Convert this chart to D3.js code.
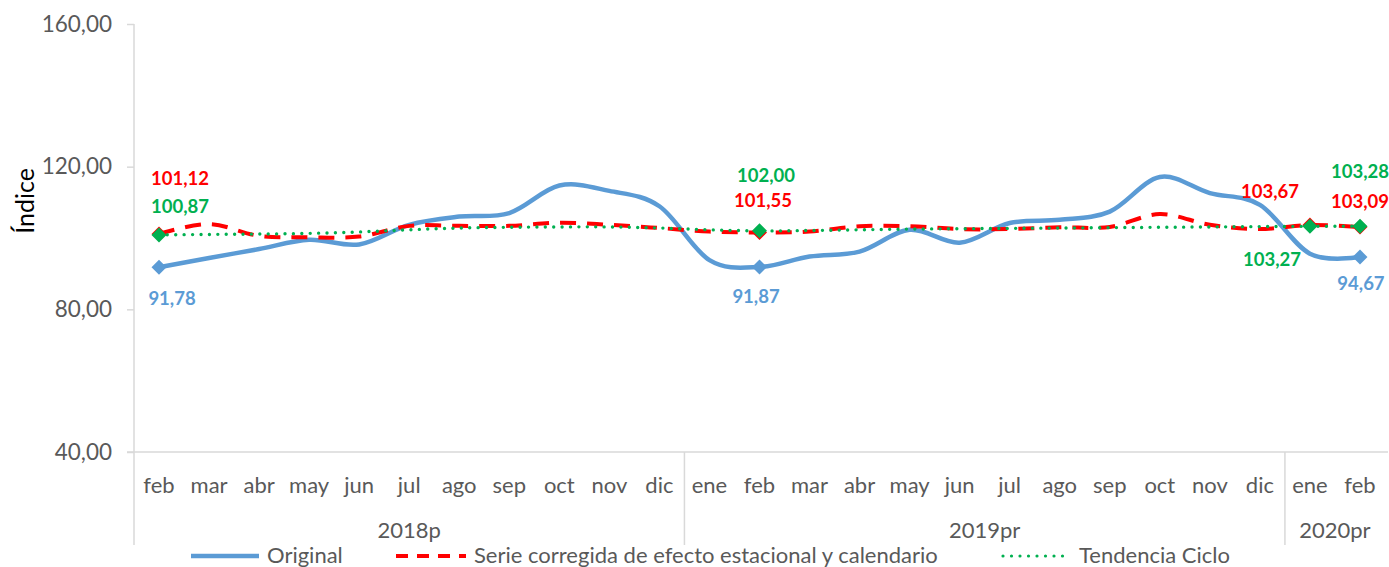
<!DOCTYPE html>
<html><head><meta charset="utf-8">
<script src="https://cdn.jsdelivr.net/npm/d3@7"></script>
<style>
body{margin:0;background:#fff;}
svg{display:block;font-family:Lato,"Open Sans",sans-serif;}
</style>
</head><body>
<svg id="chart" width="1389" height="567"></svg>
<script>
// ---- data ----
const months = ["feb","mar","abr","may","jun","jul","ago","sep","oct","nov","dic",
                "ene","feb","mar","abr","may","jun","jul","ago","sep","oct","nov","dic",
                "ene","feb"];
const yearLabels = ["2018p","2019pr","2020pr"];
const yearSpans = [11, 12, 2];
const original = [91.78, 94.4, 96.9, 99.5, 98.2, 103.7, 106.0, 107.0, 114.7, 113.2, 108.9,
                  93.8, 91.87, 94.8, 96.2, 102.3, 98.7, 104.2, 105.1, 107.4, 117.1, 112.6, 109.3,
                  95.6, 94.67];
const seasonAdj = [101.12, 103.9, 100.6, 100.2, 100.4, 103.4, 103.4, 103.4, 104.3, 103.7, 102.8,
                   101.8, 101.55, 101.8, 103.3, 103.3, 102.5, 102.5, 103.0, 103.1, 106.7, 103.7, 102.5,
                   103.67, 103.09];
const trend = [100.87, 101.0, 101.1, 101.3, 101.7, 102.3, 102.8, 103.0, 103.1, 103.1, 102.8,
               102.3, 102.00, 102.1, 102.3, 102.5, 102.6, 102.7, 102.8, 102.9, 103.0, 103.1, 103.2,
               103.27, 103.28];
const yTicks = [40, 80, 120, 160];
const seriesNames = ["Original", "Serie corregida de efecto estacional y calendario", "Tendencia Ciclo"];
const originalMarked = [0, 12, 24];
const seasonAdjMarked = [0, 12, 23, 24];
const trendMarked = [0, 12, 23, 24];

(function draw() {
// ---- styles / layout ----
const C = {blue:"#5B9BD5", red:"#FF0000", green:"#00B050", text:"#595959", axis:"#D9D9D9"};
const svg = d3.select("#chart");
const pL = 134, pR = 1385, pT = 24, pB = 452;
const loc = d3.formatLocale({decimal:",", thousands:".", grouping:[3], currency:["",""]});
const fmt = loc.format(".2f");

const x = d3.scaleBand().domain(d3.range(months.length)).range([pL, pR]).paddingInner(0).paddingOuter(0);
const xc = i => x(i) + x.bandwidth() / 2;
const y = d3.scaleLinear().domain([40, 160]).range([pB, pT]);

// y axis
const yAxis = svg.append("g").attr("transform", `translate(${pL},0)`)
  .call(d3.axisLeft(y).tickValues(yTicks).tickSize(7).tickPadding(15).tickFormat(fmt));
yAxis.select(".domain").remove();
yAxis.selectAll(".tick line").attr("stroke", C.axis).attr("stroke-width", 1.5);
yAxis.selectAll(".tick text").attr("fill", C.text).attr("font-size", 22.5).attr("font-family", "Lato");

// axis lines
svg.append("line").attr("x1", pL).attr("x2", pL).attr("y1", pT).attr("y2", 545)
  .attr("stroke", C.axis).attr("stroke-width", 1.5);
svg.append("line").attr("x1", pL - 7).attr("x2", pR + 3).attr("y1", pB).attr("y2", pB)
  .attr("stroke", C.axis).attr("stroke-width", 1.5);

// group separators
let acc = 0;
const bounds = [];
yearSpans.forEach(s => { bounds.push([acc, acc + s]); acc += s; });
bounds.slice(1).forEach(b => {
  svg.append("line").attr("x1", x(b[0])).attr("x2", x(b[0])).attr("y1", pB).attr("y2", 545)
    .attr("stroke", C.axis).attr("stroke-width", 1.5);
});

// month labels
svg.append("g").selectAll("text").data(months).join("text")
  .attr("x", (d, i) => xc(i)).attr("y", 493).attr("text-anchor", "middle")
  .attr("fill", C.text).attr("font-size", 22).text(d => d);

// year labels
svg.append("g").selectAll("text").data(yearLabels).join("text")
  .attr("x", (d, k) => (x(bounds[k][0]) + x(bounds[k][1] - 1) + x.bandwidth()) / 2)
  .attr("y", 538).attr("text-anchor", "middle")
  .attr("fill", C.text).attr("font-size", 22).text(d => d);

// y title
svg.append("text").attr("transform", "translate(34,201) rotate(-90)")
  .attr("text-anchor", "middle").attr("fill", "#000").attr("font-size", 25).text("Índice");

// lines
const line = d3.line().x((d, i) => xc(i)).y(d => y(d)).curve(d3.curveCatmullRom.alpha(0));
svg.append("path").datum(original).attr("d", line).attr("fill", "none")
  .attr("stroke", C.blue).attr("stroke-width", 4.5).attr("stroke-linejoin", "round");
svg.append("path").datum(seasonAdj).attr("d", line).attr("fill", "none")
  .attr("stroke", C.red).attr("stroke-width", 4).attr("stroke-dasharray", "16,11");
svg.append("path").datum(trend).attr("d", line).attr("fill", "none")
  .attr("stroke", C.green).attr("stroke-width", 3.4).attr("stroke-linecap", "round")
  .attr("stroke-dasharray", "0,8.4");

// markers
const diamond = r => `M0,${-r}L${r},0L0,${r}L${-r},0Z`;
function markers(data, idx, color, r) {
  svg.append("g").selectAll("path").data(idx).join("path")
    .attr("transform", i => `translate(${xc(i)},${y(data[i])})`)
    .attr("d", diamond(r)).attr("fill", color);
}
markers(original, originalMarked, C.blue, 7.5);
markers(seasonAdj, seasonAdjMarked, C.red, 7.5);
markers(trend, trendMarked, C.green, 7.5);

// data labels (offsets from point)
const labelOffsets = [
  {s:"o", i:0, dx:13, dy:31}, {s:"o", i:12, dx:-3.5, dy:29}, {s:"o", i:24, dx:1, dy:26},
  {s:"s", i:0, dx:21, dy:-56}, {s:"s", i:12, dx:3.5, dy:-32}, {s:"s", i:23, dx:-40, dy:-33.5}, {s:"s", i:24, dx:0, dy:-25.5},
  {s:"t", i:0, dx:21, dy:-29}, {s:"t", i:12, dx:6.5, dy:-56}, {s:"t", i:23, dx:-38, dy:33}, {s:"t", i:24, dx:0, dy:-55}
];
const sData = {o:original, s:seasonAdj, t:trend};
const sColor = {o:C.blue, s:C.red, t:C.green};
svg.append("g").selectAll("text").data(labelOffsets).join("text")
  .attr("x", d => xc(d.i) + d.dx).attr("y", d => y(sData[d.s][d.i]) + d.dy)
  .attr("text-anchor", "middle").attr("dominant-baseline", "central")
  .attr("font-weight", "bold").attr("font-size", 18.5).attr("fill", d => sColor[d.s])
  .text(d => fmt(sData[d.s][d.i]));

// legend
const lg = svg.append("g");
const legY = 556;
lg.append("line").attr("x1", 191).attr("x2", 259).attr("y1", legY).attr("y2", legY)
  .attr("stroke", C.blue).attr("stroke-width", 4.5);
lg.append("line").attr("x1", 396).attr("x2", 466).attr("y1", legY).attr("y2", legY)
  .attr("stroke", C.red).attr("stroke-width", 4).attr("stroke-dasharray", "12,9");
lg.append("line").attr("x1", 1003).attr("x2", 1063).attr("y1", legY).attr("y2", legY)
  .attr("stroke", C.green).attr("stroke-width", 3.2).attr("stroke-linecap", "round").attr("stroke-dasharray", "0,8.5");
const legX = [267, 474, 1079];
lg.selectAll("text").data(seriesNames).join("text")
  .attr("x", (d, k) => legX[k]).attr("y", 563).attr("fill", C.text).attr("font-size", 22).text(d => d);
})();
</script>
</body></html>
